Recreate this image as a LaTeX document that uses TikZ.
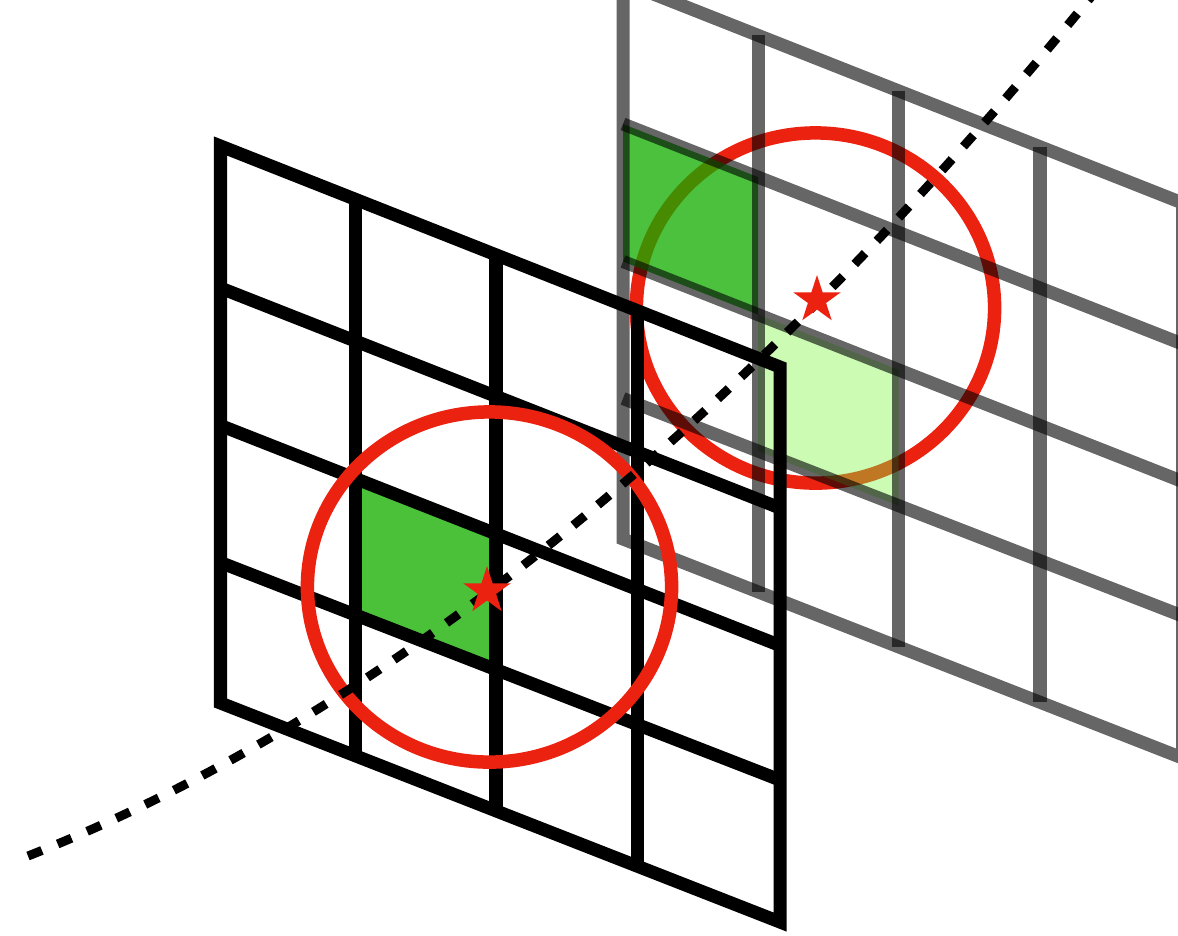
\documentclass[tikz,border=0pt]{standalone}
\usetikzlibrary{shapes.geometric,calc}
\definecolor{ringred}{RGB}{236,34,16}
\definecolor{cellgreen}{RGB}{75,193,58}
\definecolor{deepgreen}{RGB}{20,173,0}
\definecolor{palegreen}{RGB}{127,247,67}
\begin{document}
\begin{tikzpicture}[x=0.01cm,y=-0.01cm,
  gridline/.style={line width=0.13cm},
  backline/.style={gridline,black,opacity=0.6},
  ring/.style={ringred,line width=0.135cm},
  hitmark/.style={star,star points=5,star point ratio=2.618,fill=ringred,inner sep=0pt,minimum size=0.5cm},
  ray/.style={line width=0.09cm,dash pattern=on 0.15cm off 0.17cm}]
\useasboundingbox (0,0) rectangle (1178,935);
\clip (0,0) rectangle (1178,935);
\foreach \c/\t in {0/0,1/0.2413,2/0.4924,3/0.7453,4/1}
  \foreach \r/\yl/\yr in {0/146/367,1/288/508,2/425.5/645.5,3/562.5/780,4/703/922} {
    \coordinate (f-\r-\c) at ({220.5+559.5*\t},{\yl+(\yr-\yl)*\t});
    \coordinate (b-\r-\c) at ($(f-\r-\c)+(402.5,-164)$);
  }
% back plane
\draw[ring] (815.5,308) ellipse [x radius=1.79cm, y radius=1.75cm];
\fill[deepgreen,opacity=0.76] (b-1-0) -- (b-1-1) -- (b-2-1) -- (b-2-0) -- cycle;
\fill[palegreen,opacity=0.4] (b-2-1) -- (b-2-2) -- (b-3-2) -- (b-3-1) -- cycle;
\draw[backline] (b-0-0) -- (b-0-4) -- (b-4-4) -- (b-4-0) -- cycle;
\foreach \i in {1,2,3} {
  \draw[backline] (b-\i-0) -- (b-\i-4);
  \draw[backline] (b-0-\i) -- (b-4-\i);
}
% front plane
\fill[cellgreen] (f-2-1) -- (f-2-2) -- (f-3-2) -- (f-3-1) -- cycle;
\draw[gridline] (f-0-0) -- (f-0-4) -- (f-4-4) -- (f-4-0) -- cycle;
\foreach \i in {1,2,3} {
  \draw[gridline] (f-\i-0) -- (f-\i-4);
  \draw[gridline] (f-0-\i) -- (f-4-\i);
}
\draw[ring] (489.5,587) ellipse [x radius=1.82cm, y radius=1.75cm];
\draw[ray] (28,856) .. controls (388.7,713.9) and (749.3,419.8) .. (1110,-26.5);
\node[hitmark] (front hit) at (487,591) {};
\node[hitmark] (back hit) at (817,300) {};
\end{tikzpicture}
\end{document}
